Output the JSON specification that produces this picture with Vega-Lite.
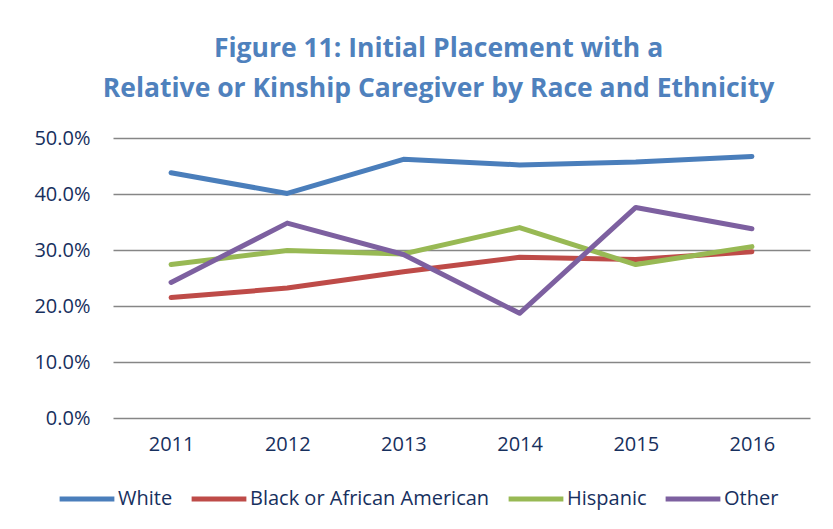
{
  "$schema": "https://vega.github.io/schema/vega-lite/v6.json",
  "autosize": "none",
  "width": 697,
  "height": 280,
  "padding": {"left": 113, "top": 138, "right": 23, "bottom": 111},
  "background": "white",
  "title": {
    "text": ["Figure 11: Initial Placement with a", "Relative or Kinship Caregiver by Race and Ethnicity"],
    "font": "Open Sans",
    "fontSize": 26.5,
    "fontWeight": "bold",
    "color": "#4F81BD",
    "anchor": "middle",
    "dx": -23,
    "lineHeight": 40,
    "offset": 26
  },
  "data": {
    "values": [
      {"year": "2011", "group": "White", "value": 0.438},
      {"year": "2012", "group": "White", "value": 0.401},
      {"year": "2013", "group": "White", "value": 0.462},
      {"year": "2014", "group": "White", "value": 0.452},
      {"year": "2015", "group": "White", "value": 0.457},
      {"year": "2016", "group": "White", "value": 0.467},
      {"year": "2011", "group": "Black or African American", "value": 0.215},
      {"year": "2012", "group": "Black or African American", "value": 0.232},
      {"year": "2013", "group": "Black or African American", "value": 0.261},
      {"year": "2014", "group": "Black or African American", "value": 0.287},
      {"year": "2015", "group": "Black or African American", "value": 0.283},
      {"year": "2016", "group": "Black or African American", "value": 0.297},
      {"year": "2011", "group": "Hispanic", "value": 0.274},
      {"year": "2012", "group": "Hispanic", "value": 0.299},
      {"year": "2013", "group": "Hispanic", "value": 0.293},
      {"year": "2014", "group": "Hispanic", "value": 0.340},
      {"year": "2015", "group": "Hispanic", "value": 0.274},
      {"year": "2016", "group": "Hispanic", "value": 0.306},
      {"year": "2011", "group": "Other", "value": 0.242},
      {"year": "2012", "group": "Other", "value": 0.348},
      {"year": "2013", "group": "Other", "value": 0.292},
      {"year": "2014", "group": "Other", "value": 0.187},
      {"year": "2015", "group": "Other", "value": 0.376},
      {"year": "2016", "group": "Other", "value": 0.338}
    ]
  },
  "mark": {"type": "line", "strokeWidth": 5, "strokeCap": "round", "strokeJoin": "round"},
  "encoding": {
    "x": {
      "field": "year",
      "type": "ordinal",
      "title": null,
      "scale": {"type": "point", "padding": 0.5},
      "axis": {
        "labelAngle": 0,
        "labelFont": "Open Sans",
        "labelFontSize": 20,
        "labelColor": "#17305E",
        "labelPadding": 16,
        "ticks": false,
        "domain": false,
        "grid": false
      }
    },
    "y": {
      "field": "value",
      "type": "quantitative",
      "title": null,
      "scale": {"domain": [0, 0.5], "nice": false},
      "axis": {
        "values": [0, 0.1, 0.2, 0.3, 0.4, 0.5],
        "format": ".1%",
        "labelFont": "Open Sans",
        "labelFontSize": 20,
        "labelColor": "#17305E",
        "labelPadding": 23,
        "ticks": false,
        "domain": false,
        "grid": true,
        "gridColor": "#868686",
        "gridWidth": 1.5
      }
    },
    "color": {
      "field": "group",
      "type": "nominal",
      "scale": {
        "domain": ["White", "Black or African American", "Hispanic", "Other"],
        "range": ["#4A7EBB", "#BE4B48", "#98B954", "#7D60A0"]
      },
      "legend": {
        "title": null,
        "orient": "none",
        "direction": "horizontal",
        "legendX": -56,
        "legendY": 331,
        "symbolType": "stroke",
        "symbolStrokeWidth": 5,
        "symbolSize": 3000,
        "labelFont": "Open Sans",
        "labelFontSize": 20,
        "labelColor": "#17305E",
        "labelLimit": 0,
        "labelOffset": 1,
        "columnPadding": 8,
        "symbolOffset": 0
      }
    }
  },
  "config": {"view": {"stroke": null}}
}
